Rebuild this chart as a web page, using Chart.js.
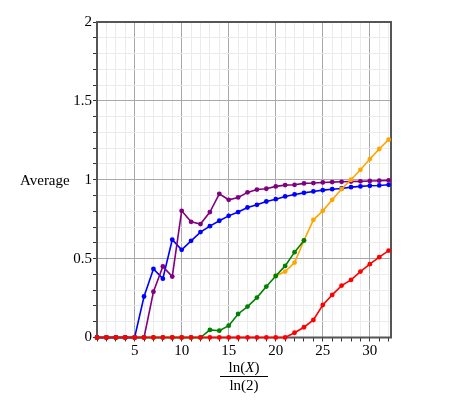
<!DOCTYPE html>
<html>
<head>
<meta charset="utf-8">
<script src="https://cdn.jsdelivr.net/npm/chart.js@4/dist/chart.umd.min.js"></script>
<style>
  body { margin: 0; background: #fff; }
  #wrap { position: relative; width: 460px; height: 401px; }
  #plot { position: absolute; left: 0; top: 0; }
  .lbl { position: absolute; font-family: 'Liberation Serif', serif; font-size: 15px; color: #000; }
  #ytitle { left: 20px; top: 172px; }
  #xtitle { left: 214px; top: 359px; width: 60px; text-align: center; line-height: 17px; }
  #xtitle .bar { border-top: 1px solid #000; margin: 0 6px; }
</style>
</head>
<body>
<div id="wrap">
  <canvas id="plot" width="460" height="401"></canvas>
  <div class="lbl" id="ytitle">Average</div>
  <div class="lbl" id="xtitle"><div>ln(<i>X</i>)</div><div class="bar"></div><div>ln(2)</div></div>
</div>
<script>
const xs = [1,2,3,4,5,6,7,8,9,10,11,12,13,14,15,16,17,18,19,20,21,22,23,24,25,26,27,28,29,30,31,32];

const blue = [0,0,0,0,0,0.26,0.435,0.373,0.62,0.556,0.613,0.668,0.706,0.74,0.771,0.795,
              0.824,0.841,0.862,0.877,0.894,0.907,0.917,0.926,0.934,0.94,0.945,0.953,0.958,0.962,0.964,0.968];
const purple = [0,0,0,0,0,0,0.29,0.45,0.386,0.803,0.733,0.719,0.795,0.911,0.873,0.888,
                0.92,0.938,0.943,0.958,0.966,0.968,0.977,0.979,0.983,0.985,0.987,0.989,0.99,0.992,0.994,0.996];
const green = [0,0,0,0,0,0,0,0,0,0,0,0,0.048,0.043,0.075,0.149,
               0.196,0.253,0.323,0.39,0.454,0.541,0.615,null,null,null,null,null,null,null,null,null];
const orange = [null,null,null,null,null,null,null,null,null,null,null,null,null,null,null,null,
                null,null,null,0.39,0.418,0.475,0.615,0.746,0.803,0.873,0.941,1.0,1.063,1.131,1.195,1.254];
const red = [0,0,0,0,0,0,0,0,0,0,0,0,0,0,0,0,
             0,0,0,0,0,0.03,0.065,0.111,0.206,0.27,0.329,0.365,0.418,0.465,0.509,0.551];

const xLabels = [5, 10, 15, 20, 25, 30];
const yLabels = [0, 0.5, 1, 1.5, 2];

function makeSet(values, color, order) {
    return {
        data: xs.map((x, i) => ({ x: x, y: values[i] })),
        borderColor: color,
        backgroundColor: color,
        borderWidth: 1.6,
        pointRadius: 2.4,
        pointHoverRadius: 2.4,
        pointBorderWidth: 0,
        spanGaps: false,
        clip: false,
        order: order
    };
}

// box round the plot area
const frame = {
    id: 'frame',
    beforeDatasetsDraw(chart) {
        const a = chart.chartArea;
        const ctx = chart.ctx;
        ctx.save();
        ctx.strokeStyle = '#555';
        ctx.lineWidth = 2;
        ctx.strokeRect(a.left, a.top, a.right - a.left, a.bottom - a.top);
        ctx.restore();
    }
};

const tickFont = { family: "'Liberation Serif', serif", size: 15 };

new Chart(document.getElementById('plot'), {
    type: 'line',
    data: {
        datasets: [
            makeSet(blue, '#0000ff', 5),
            makeSet(purple, '#800080', 4),
            makeSet(orange, '#ffa500', 3),
            makeSet(green, '#008000', 2),
            makeSet(red, '#ff0000', 1)
        ]
    },
    options: {
        responsive: false,
        animation: false,
        layout: { padding: { left: 0, top: 22, right: 69, bottom: 0 } },
        plugins: { legend: { display: false }, tooltip: { enabled: false } },
        scales: {
            x: {
                type: 'linear',
                min: 1,
                max: 32.25,
                afterFit: s => { s.height = 63.5; },
                afterBuildTicks: s => {
                    s.ticks = xs.map(v => ({ value: v }));
                },
                border: { display: false },
                grid: {
                    color: c => (c.tick && c.tick.value % 5 === 0) ? '#a8a8a8' : '#ebebeb',
                    tickColor: '#333',
                    tickLength: 4,
                    drawTicks: true
                },
                ticks: {
                    autoSkip: false,
                    maxRotation: 0,
                    color: '#000',
                    font: tickFont,
                    padding: 1,
                    callback: v => xLabels.includes(v) ? String(v) : ''
                }
            },
            y: {
                min: 0,
                max: 2,
                afterFit: s => { s.width = 97; },
                afterBuildTicks: s => {
                    const t = [];
                    for (let i = 0; i <= 20; i++) t.push({ value: i / 10 });
                    s.ticks = t;
                },
                border: { display: false },
                grid: {
                    color: c => (c.tick && Math.abs(c.tick.value * 2 - Math.round(c.tick.value * 2)) < 1e-6) ? '#a8a8a8' : '#ebebeb',
                    tickColor: '#333',
                    tickLength: 4
                },
                ticks: {
                    autoSkip: false,
                    color: '#000',
                    font: tickFont,
                    padding: 1,
                    callback: v => {
                        const r = Math.round(v * 10) / 10;
                        return yLabels.includes(r) ? String(r) : '';
                    }
                }
            }
        }
    },
    plugins: [frame]
});
</script>
</body>
</html>
